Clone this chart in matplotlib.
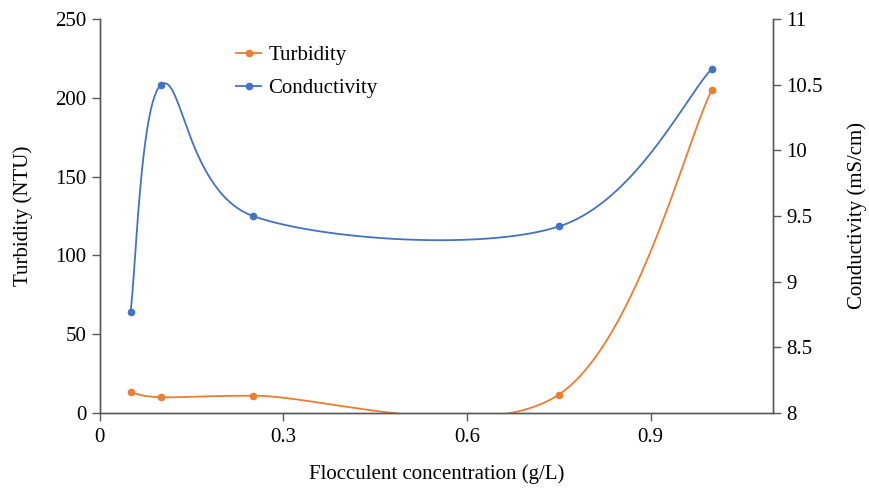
import matplotlib.pyplot as plt
import numpy as np

plt.rcParams['font.family'] = ['Liberation Serif', 'DejaVu Serif']

conc = [0.05, 0.1, 0.25, 0.75, 1.0]
turbidity = [13, 10, 11, 11.7, 205]
conductivity = [8.77, 10.5, 9.5, 9.42, 10.62]

x_ticks = [0, 0.3, 0.6, 0.9]
left_ticks = [0, 50, 100, 150, 200, 250]
right_ticks = [8, 8.5, 9, 9.5, 10, 10.5, 11]
right_labels = ['8', '8.5', '9', '9.5', '10', '10.5', '11']

orange = '#ED7D31'
blue = '#4472C4'
grey = '#595959'


def smooth(xs, ys, n=60):
    # Excel-like smoothing: Catmull-Rom as cubic Bezier segments
    p = np.column_stack([xs, ys]).astype(float)
    ext = np.vstack([p[0], p, p[-1]])
    out = []
    t = np.linspace(0, 1, n)[:, None]
    for i in range(len(p) - 1):
        p0, p1, p2, p3 = ext[i], ext[i + 1], ext[i + 2], ext[i + 3]
        c1 = p1 + (p2 - p0) / 6
        c2 = p2 - (p3 - p1) / 6
        seg = ((1 - t) ** 3) * p1 + 3 * ((1 - t) ** 2) * t * c1 + 3 * (1 - t) * t ** 2 * c2 + t ** 3 * p2
        out.append(seg if i == 0 else seg[1:])
    out = np.vstack(out)
    return out[:, 0], out[:, 1]


fig = plt.figure(figsize=(8.69, 4.92), dpi=100)
ax = fig.add_axes([0.115, 0.1606, 0.7745, 0.8008])
ax2 = ax.twinx()

tx, ty = smooth(conc, turbidity)
cx, cy = smooth(conc, conductivity)

ax.plot(tx, ty, color=orange, lw=1.3)
ax.plot(conc, turbidity, 'o', color=orange, ms=4.5)
ax2.plot(cx, cy, color=blue, lw=1.3)
ax2.plot(conc, conductivity, 'o', color=blue, ms=4.5)

ax.set_xlim(0, 1.1)
ax.set_ylim(0, 250)
ax2.set_ylim(8, 11)
ax.set_xticks(x_ticks)
ax.set_xticklabels(['0', '0.3', '0.6', '0.9'])
ax.set_yticks(left_ticks)
ax2.set_yticks(right_ticks)
ax2.set_yticklabels(right_labels)

for a in (ax, ax2):
    a.spines['top'].set_visible(False)
    for s in ('left', 'right', 'bottom'):
        a.spines[s].set_color(grey)
        a.spines[s].set_linewidth(1.0)
    a.tick_params(colors=grey, labelcolor='black', labelsize=15, length=6, width=1.0)
ax.tick_params(axis='x', pad=5)

ax.set_xlabel('Flocculent concentration (g/L)', fontsize=15, labelpad=12)
ax.set_ylabel('Turbidity (NTU)', fontsize=15, labelpad=16)
ax2.set_ylabel('Conductivity (mS/cm)', fontsize=15, rotation=90, labelpad=18)

h1 = plt.Line2D([], [], color=orange, marker='o', ms=4.5, lw=1.3)
h2 = plt.Line2D([], [], color=blue, marker='o', ms=4.5, lw=1.3)
fig.legend([h1, h2], ['Turbidity', 'Conductivity'], loc='upper left',
           bbox_to_anchor=(0.25, 0.945), frameon=False, fontsize=15,
           handlelength=1.2, handletextpad=0.35, labelspacing=0.62)

fig.savefig('out.png', dpi=100)
